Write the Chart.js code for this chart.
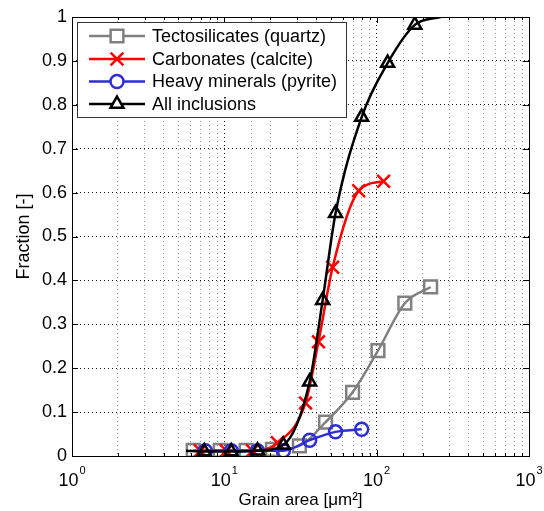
<!DOCTYPE html>
<html>
<head>
<meta charset="utf-8">
<script src="https://cdn.jsdelivr.net/npm/chart.js"></script>
<style>
  html, body { margin: 0; padding: 0; background: #fff; }
</style>
</head>
<body>
<canvas id="chart" width="544" height="511"></canvas>
<script>
// --- Data ---
const seriesNames = ['Tectosilicates (quartz)', 'Carbonates (calcite)', 'Heavy minerals (pyrite)', 'All inclusions'];

const quartzX = [6.25, 9.4, 13.9, 20.7, 31.1, 46.2, 69.5, 102, 153, 226];
const quartzY = [0.013, 0.013, 0.013, 0.015, 0.023, 0.077, 0.145, 0.24, 0.348, 0.385];

const calciteX = [6.95, 10.3, 15.3, 22.3, 34.1, 41.5, 51.4, 76.2, 111];
const calciteY = [0.012, 0.012, 0.012, 0.03, 0.121, 0.26, 0.43, 0.604, 0.626];

const pyriteX = [7.5, 11.1, 16.5, 24.4, 36.3, 53.7, 79.7];
const pyriteY = [0.012, 0.012, 0.012, 0.012, 0.036, 0.055, 0.061];

// first and last entries are where the curve starts / ends (no marker)
const allX = [5.6, 7.39, 11.1, 16.5, 24.4, 36.3, 44.2, 53.7, 79.7, 118, 178, 263];
const allY = [0.012, 0.01, 0.01, 0.012, 0.025, 0.169, 0.355, 0.553, 0.772, 0.895, 0.982, 1.0];

const xTickDecades = [1, 10, 100, 1000];
const xTickExponents = ['0', '1', '2', '3'];

const FONT = '"Liberation Sans", Arial, Helvetica, sans-serif';

function pts(xs, ys) {
    return xs.map((x, i) => ({ x: x, y: ys[i] }));
}

const styles = [
    { color: 'rgb(128,128,128)', pointStyle: 'rect', radius: 9 },
    { color: 'rgb(255,0,0)', pointStyle: 'crossRot', radius: 9 },
    { color: 'rgb(45,45,215)', pointStyle: 'circle', radius: 6.5 },
    { color: 'rgb(0,0,0)', pointStyle: 'triangle', radius: 7.5 }
];

function isDecade(v) {
    const l = Math.log10(v);
    return Math.abs(l - Math.round(l)) < 1e-9;
}

const datasets = [
    pts(quartzX, quartzY),
    pts(calciteX, calciteY),
    pts(pyriteX, pyriteY),
    pts(allX, allY)
].map((data, i) => ({
    label: seriesNames[i],
    data: data,
    order: 4 - i,
    borderColor: styles[i].color,
    borderWidth: 2.5,
    cubicInterpolationMode: 'monotone',
    pointStyle: styles[i].pointStyle,
    pointRadius: i === 3
        ? (c => (c.dataIndex === 0 || c.dataIndex === data.length - 1) ? 0 : styles[i].radius)
        : styles[i].radius,
    pointBorderWidth: 2.5,
    pointBorderColor: styles[i].color,
    pointBackgroundColor: 'rgba(0,0,0,0)',
    pointHoverRadius: styles[i].radius,
    fill: false
}));

// --- Frame, inward ticks, x tick labels (10^n) and legend ---
const decorPlugin = {
    id: 'decor',
    afterDraw(chart) {
        const { ctx, chartArea: a, scales: { x, y } } = chart;
        ctx.save();
        ctx.strokeStyle = '#000';
        ctx.lineWidth = 1;
        ctx.setLineDash([]);
        ctx.strokeRect(a.left + 0.5, a.top + 0.5, a.right - a.left, a.bottom - a.top);

        // inward ticks
        ctx.beginPath();
        x.ticks.forEach(t => {
            const px = Math.round(x.getPixelForValue(t.value)) + 0.5;
            const len = isDecade(t.value) ? 6 : 3;
            ctx.moveTo(px, a.bottom); ctx.lineTo(px, a.bottom - len);
            ctx.moveTo(px, a.top); ctx.lineTo(px, a.top + len);
        });
        y.ticks.forEach(t => {
            const py = Math.round(y.getPixelForValue(t.value)) + 0.5;
            ctx.moveTo(a.left, py); ctx.lineTo(a.left + 6, py);
            ctx.moveTo(a.right, py); ctx.lineTo(a.right - 6, py);
        });
        ctx.stroke();

        // x tick labels with superscript exponent
        ctx.fillStyle = '#000';
        ctx.textAlign = 'left';
        ctx.textBaseline = 'alphabetic';
        xTickDecades.forEach((v, i) => {
            const px = x.getPixelForValue(v);
            ctx.font = '18px ' + FONT;
            const wb = ctx.measureText('10').width;
            ctx.font = '11px ' + FONT;
            const we = ctx.measureText(xTickExponents[i]).width;
            const start = px - (wb + 1 + we) / 2;
            ctx.font = '18px ' + FONT;
            ctx.fillText('10', start, a.bottom + 30);
            ctx.font = '11px ' + FONT;
            ctx.fillText(xTickExponents[i], start + wb + 1, a.bottom + 18);
        });

        // legend
        const box = { l: 77.5, t: 22.5, r: 346.5, b: 117.5 };
        ctx.fillStyle = '#fff';
        ctx.fillRect(box.l, box.t, box.r - box.l, box.b - box.t);
        ctx.strokeStyle = '#333';
        ctx.lineWidth = 1;
        ctx.strokeRect(box.l, box.t, box.r - box.l, box.b - box.t);
        const rows = [36, 59, 81.5, 104];
        ctx.font = '18px ' + FONT;
        ctx.textBaseline = 'middle';
        seriesNames.forEach((name, i) => {
            const ry = rows[i];
            ctx.strokeStyle = styles[i].color;
            ctx.lineWidth = 2.5;
            ctx.beginPath();
            ctx.moveTo(89, ry); ctx.lineTo(145, ry);
            ctx.stroke();
            ctx.fillStyle = '#fff';
            Chart.helpers.drawPoint(ctx, {
                pointStyle: styles[i].pointStyle,
                radius: styles[i].radius,
                rotation: 0,
                borderWidth: 2.5
            }, 117, ry);
            ctx.fillStyle = '#000';
            ctx.fillText(name, 152, ry + 1);
        });
        ctx.restore();
    }
};

const ctx = document.getElementById('chart').getContext('2d');
const chart = new Chart(ctx, {
    type: 'line',
    data: { datasets: datasets },
    options: {
        responsive: false,
        animation: false,
        layout: { padding: { left: 0, top: 17, right: 15, bottom: 0 } },
        plugins: {
            legend: { display: false },
            tooltip: { enabled: false }
        },
        scales: {
            x: {
                type: 'logarithmic',
                min: 1,
                max: 1000,
                afterFit: s => { s.height = 55; },
                grid: {
                    drawTicks: false,
                    lineWidth: 1,
                    color: c => (c.tick && isDecade(c.tick.value)) ? 'rgba(0,0,0,0.9)' : 'rgba(120,120,120,0.8)'
                },
                border: { display: false, dash: [1, 3] },
                ticks: {
                    autoSkip: false,
                    maxRotation: 0,
                    padding: 11,
                    font: { family: FONT, size: 18 },
                    callback: () => ''
                },
                title: {
                    display: true,
                    text: 'Grain area [μm²]',
                    color: '#000',
                    font: { family: FONT, size: 17 },
                    padding: { top: 0, bottom: 0 }
                }
            },
            y: {
                min: 0,
                max: 1,
                afterFit: s => { s.width = 72; },
                grid: {
                    drawTicks: false,
                    lineWidth: 1,
                    color: 'rgba(0,0,0,0.9)'
                },
                border: { display: false, dash: [1, 3] },
                ticks: {
                    stepSize: 0.1,
                    padding: 5,
                    color: '#000',
                    font: { family: FONT, size: 18 },
                    callback: v => String(Math.round(v * 10) / 10)
                },
                title: {
                    display: true,
                    text: 'Fraction [-]',
                    color: '#000',
                    font: { family: FONT, size: 18 },
                    padding: { top: 13, bottom: 0 }
                }
            }
        }
    },
    plugins: [decorPlugin]
});
</script>
</body>
</html>
